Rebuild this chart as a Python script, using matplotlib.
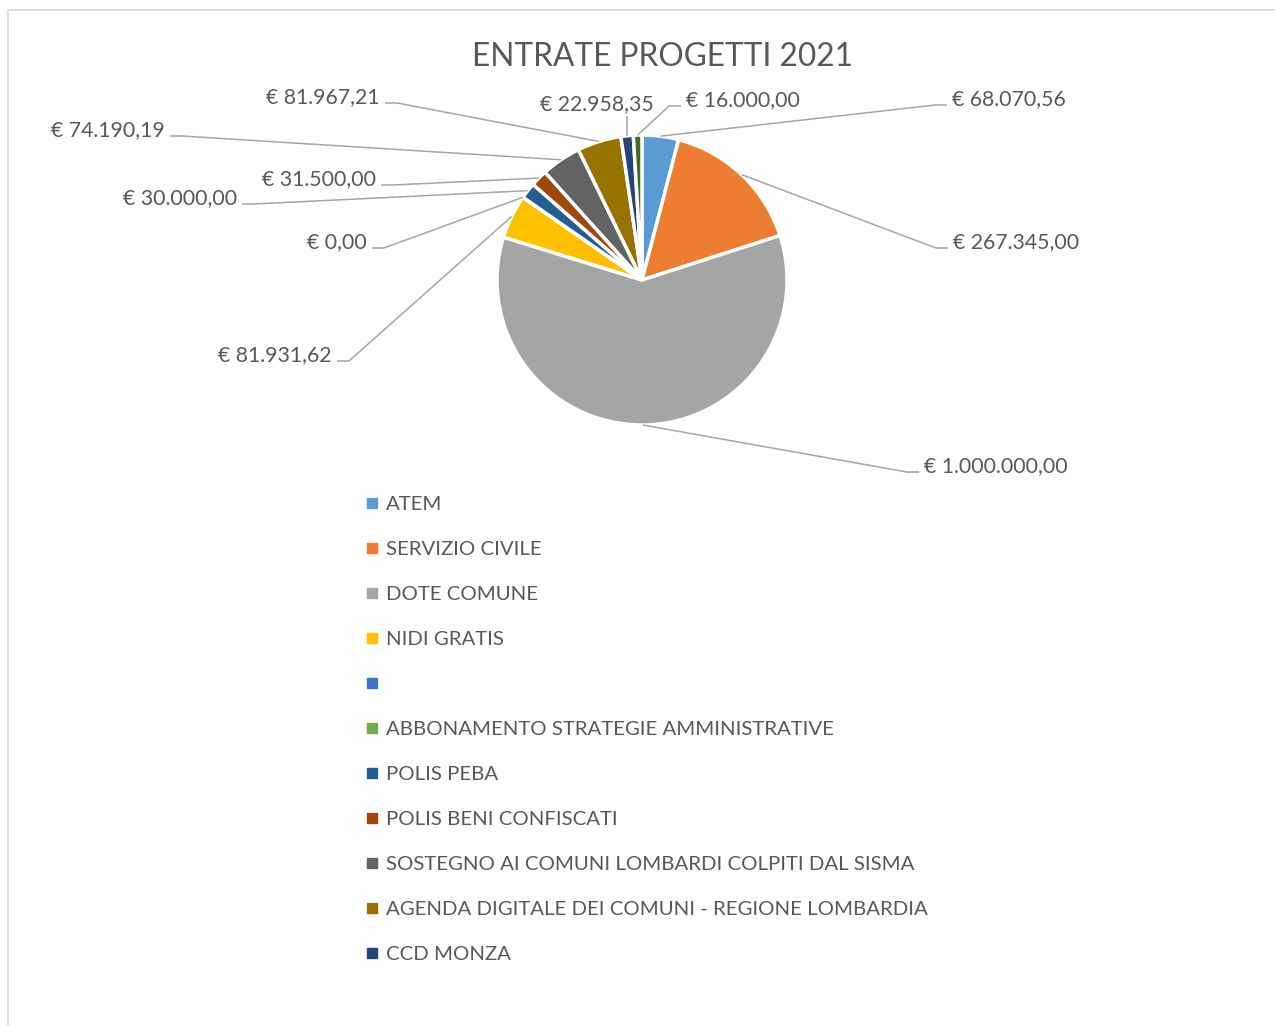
import matplotlib.pyplot as plt
import numpy as np

W, H = 1275, 1026

# dati del grafico
categorie = ['ATEM', 'SERVIZIO CIVILE', 'DOTE COMUNE', 'NIDI GRATIS', '',
             'ABBONAMENTO STRATEGIE AMMINISTRATIVE', 'POLIS PEBA',
             'POLIS BENI CONFISCATI', 'SOSTEGNO AI COMUNI LOMBARDI COLPITI DAL SISMA',
             'AGENDA DIGITALE DEI COMUNI - REGIONE LOMBARDIA', 'CCD MONZA', '']
valori = [68070.56, 267345.00, 1000000.00, 81931.62, 0.00, 0.00,
          30000.00, 31500.00, 74190.19, 81967.21, 22958.35, 16000.00]
etichette = ['€ 68.070,56', '€ 267.345,00', '€ 1.000.000,00', '€ 81.931,62', '€ 0,00', None,
             '€ 30.000,00', '€ 31.500,00', '€ 74.190,19', '€ 81.967,21', '€ 22.958,35', '€ 16.000,00']
colori = ['#5B9BD5', '#ED7D31', '#A5A5A5', '#FFC000', '#4472C4', '#70AD47',
          '#255E91', '#9E480E', '#636363', '#997300', '#264478', '#43682B']
n_legenda = 11  # la legenda nell'originale e' troncata

# posizione delle etichette (pixel) e allineamento
pos_etichette = [(952, 99, 'left'), (953, 242, 'left'), (924, 466, 'left'),
                 (332, 355, 'right'), (367, 242, 'right'), None,
                 (237, 198, 'right'), (376, 179, 'right'), (165, 130, 'right'),
                 (380, 97, 'right'), (597, 104, 'center'), (686, 100, 'left')]

testo = '#595959'
linea = '#A6A6A6'
plt.rcParams['font.family'] = ['Lato', 'DejaVu Sans']

fig = plt.figure(figsize=(W / 100, H / 100), dpi=100)
ax = fig.add_axes([0, 0, 1, 1])

cx, cy, r = 642, 280, 145
spicchi, _ = ax.pie(valori, colors=colori, startangle=90, counterclock=False,
                    center=(cx, H - cy), radius=r,
                    wedgeprops=dict(edgecolor='white', linewidth=2.5))

ax.set_xlim(0, W)
ax.set_ylim(0, H)
ax.set_aspect('equal')
ax.axis('off')

# etichette con linee guida
for w, lab, pos in zip(spicchi, etichette, pos_etichette):
    if lab is None:
        continue
    ang = np.deg2rad((w.theta1 + w.theta2) / 2)
    sx = cx + r * np.cos(ang)
    sy = (H - cy) + r * np.sin(ang)
    tx, ty, al = pos
    if al == 'left':
        xs = [sx, tx - 17, tx - 5]
        ys = [sy, H - ty - 6, H - ty - 6]
    elif al == 'right':
        xs = [sx, tx + 17, tx + 5]
        ys = [sy, H - ty - 6, H - ty - 6]
    else:
        xs = [sx, sx]
        ys = [sy, H - ty - 12]
    ax.plot(xs, ys, color=linea, lw=1.1, solid_capstyle='butt')
    ax.text(tx, H - ty, lab, ha=al, va='center', fontsize=15.3, color=testo)

# titolo
ax.text(662, H - 57, 'ENTRATE PROGETTI 2021', ha='center', va='center',
        fontsize=22.8, color=testo)

# legenda
for i in range(n_legenda):
    yy = H - (503 + 45 * i)
    ax.plot(372, yy, marker='s', markersize=6.5, color=colori[i], lw=0)
    ax.text(386, yy - 1.5, categorie[i], ha='left', va='center', fontsize=14.7, color=testo)

# bordo dell'area grafico
ax.plot([7.5, 7.5, W + 5], [-5, H - 9.5, H - 9.5], color='#D9D9D9', lw=1.2)

fig.savefig('out.png', dpi=100)
